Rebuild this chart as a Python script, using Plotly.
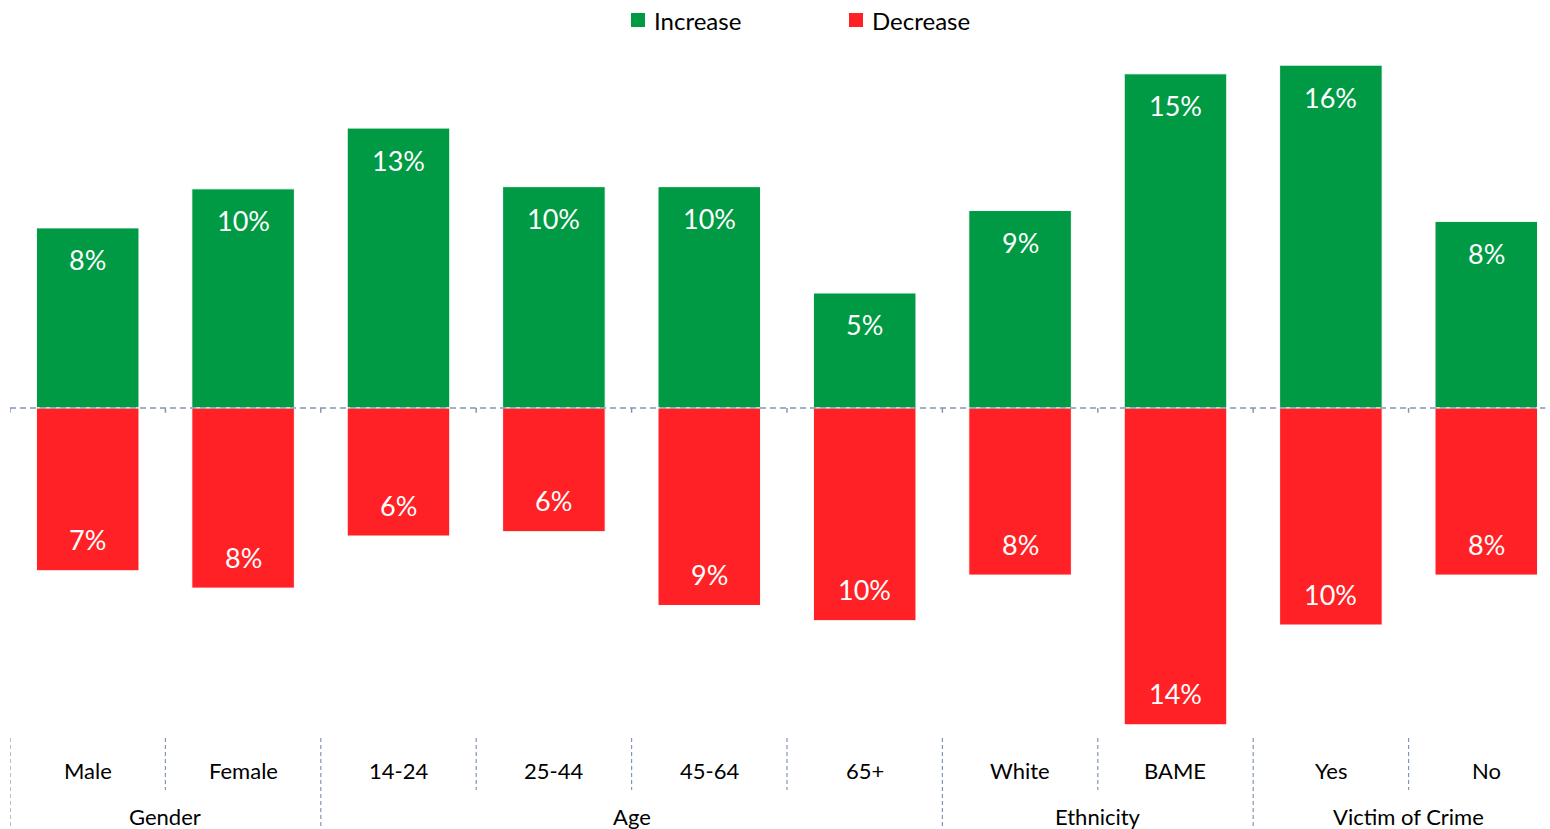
import plotly.graph_objects as go

categories = ["Male", "Female", "14-24", "25-44", "45-64", "65+", "White", "BAME", "Yes", "No"]
groups = ["Gender", "Age", "Ethnicity", "Victim of Crime"]
group_spans = [(0, 1), (2, 5), (6, 7), (8, 9)]
increase = [8.3, 10.1, 12.9, 10.2, 10.2, 5.3, 9.1, 15.4, 15.8, 8.6]
decrease = [7.5, 8.3, 5.9, 5.7, 9.1, 9.8, 7.7, 14.6, 10.0, 7.7]
increase_labels = ["8%", "10%", "13%", "10%", "10%", "5%", "9%", "15%", "16%", "8%"]
decrease_labels = ["7%", "8%", "6%", "6%", "9%", "10%", "8%", "14%", "10%", "8%"]
series_names = ["Increase", "Decrease"]

GREEN = "#009A44"
RED = "#FF2125"
SEP = "#8497B0"
FONT = "Lato, 'Open Sans', sans-serif"

W, H_FIG = 1550, 829
PLOT_TOP, PLOT_BOTTOM, PLOT_LEFT = 40, 730, 10
PH = PLOT_BOTTOM - PLOT_TOP
PW = W - PLOT_LEFT
ZERO_Y = 408

def px(p):
    return (p - PLOT_LEFT) / PW

def py(p):
    return (PLOT_BOTTOM - p) / PH

x = list(range(len(categories)))
fig = go.Figure()
fig.add_trace(go.Bar(
    x=x, y=increase, name=series_names[0], showlegend=False,
    marker=dict(color=GREEN, line=dict(color="white", width=1)), width=0.66,
))
fig.add_trace(go.Bar(
    x=x, y=[-v for v in decrease], name=series_names[1], showlegend=False,
    marker=dict(color=RED, line=dict(color="white", width=1)), width=0.66,
))

annotations = []
for i in x:
    annotations.append(dict(x=i, y=increase[i], xref="x", yref="y", text=increase_labels[i],
                            showarrow=False, yshift=-32, yanchor="middle",
                            font=dict(size=27, color="white", family=FONT)))
    annotations.append(dict(x=i, y=-decrease[i], xref="x", yref="y", text=decrease_labels[i],
                            showarrow=False, yshift=31, yanchor="middle",
                            font=dict(size=27, color="white", family=FONT)))

shapes = []
# zero line
shapes.append(dict(type="line", xref="x", yref="y", x0=-0.5, x1=9.38, y0=0, y1=0,
                   line=dict(color=SEP, width=1.5, dash="6px,4px"), layer="above"))
for b in x:
    shapes.append(dict(type="line", xref="x", yref="y", x0=b - 0.5, x1=b - 0.5, y0=0, y1=-0.22,
                       line=dict(color=SEP, width=1.5)))

group_bounds = set(s for s, e in group_spans)
for b in x:
    bottom = 829 if b in group_bounds else 790
    shapes.append(dict(type="line", xref="x", yref="paper", x0=b - 0.5, x1=b - 0.5,
                       y0=py(738), y1=py(bottom), line=dict(color=SEP, width=1.2, dash="4px,3px")))

for i, c in enumerate(categories):
    annotations.append(dict(x=i, y=py(770), xref="x", yref="paper", text=c, showarrow=False,
                            font=dict(size=22, color="black", family=FONT), yanchor="middle"))
for g, (s, e) in zip(groups, group_spans):
    annotations.append(dict(x=(s + e) / 2, y=py(816), xref="x", yref="paper", text=g, showarrow=False,
                            font=dict(size=22, color="black", family=FONT), yanchor="middle"))

# legend (manual, to match spacing)
legend_items = [(series_names[0], GREEN, 631, 652), (series_names[1], RED, 849, 870)]
for name, col, sq_x, tx in legend_items:
    shapes.append(dict(type="rect", xref="paper", yref="paper", x0=px(sq_x), x1=px(sq_x + 14),
                       y0=py(27), y1=py(13), fillcolor=col, line=dict(width=0)))
    annotations.append(dict(x=px(tx), y=py(20), xref="paper", yref="paper", text=name,
                            showarrow=False, xanchor="left", yanchor="middle",
                            font=dict(size=24, color="black", family=FONT)))

scale = 21.7
fig.update_layout(
    width=W, height=H_FIG,
    margin=dict(l=PLOT_LEFT, r=0, t=PLOT_TOP, b=H_FIG - PLOT_BOTTOM),
    plot_bgcolor="white", paper_bgcolor="white",
    barmode="relative",
    showlegend=False,
    xaxis=dict(range=[-0.5, 9.41], showticklabels=False, showgrid=False, zeroline=False, showline=False),
    yaxis=dict(range=[-(PLOT_BOTTOM - ZERO_Y) / scale, (ZERO_Y - PLOT_TOP) / scale], showticklabels=False,
               showgrid=False, zeroline=False, showline=False),
    shapes=shapes, annotations=annotations,
)
fig.write_html("out.html", config={"displayModeBar": False},
               post_script="document.body.style.margin='0px';document.body.style.overflow='hidden';")
